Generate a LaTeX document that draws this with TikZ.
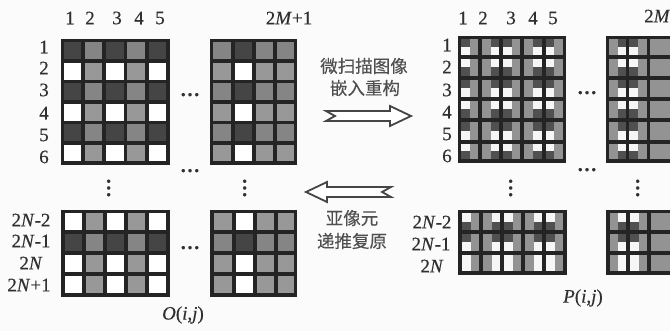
\documentclass[tikz,border=0pt]{standalone}
\usepackage{fontspec}
\setmainfont{Liberation Serif}[FakeBold=0.35]
\newfontfamily\cjk{Noto Sans CJK SC}[FakeBold=0.15]
\definecolor{ad}{HTML}{454545}
\definecolor{aw}{HTML}{FFFFFF}
\definecolor{gd}{HTML}{858585}
\definecolor{gw}{HTML}{989898}
\definecolor{gridc}{HTML}{242424}
\definecolor{paper}{HTML}{FBFBFB}
\definecolor{inkc}{HTML}{303030}
\tikzset{
  cellline/.style={draw=gridc,line width=3.4pt},
  lbl/.style={inner sep=0pt,text=inkc,font=\fontsize{19}{20}\selectfont},
  cjklbl/.style={inner sep=0pt,text=inkc!85,font=\cjk\fontsize{17.5}{20}\selectfont},
  dots/.style={inner sep=0pt,text=inkc,font=\bfseries\fontsize{20}{20}\selectfont},
  blockarrow/.style={draw=inkc!90,line width=1.8pt,fill=white,line join=miter},
}
% O-type grid: #1 = x1/x2/coltype list, #2 = y1/y2/rowtype list
\newcommand{\ogrid}[2]{%
  \foreach \xa/\xb/\cc in {#1}{\foreach \ya/\yb/\rr in {#2}{%
    \path[fill=\cc\rr,cellline] (\xa,\ya) rectangle (\xb,\yb);}}}
% P-type grid: #1 = x1/x2/left/right, #2 = y1/y2/top/bottom
\newcommand{\pgridx}[2]{%
  \foreach \xa/\xb/\ll/\rt in {#1}{\foreach \ya/\yb/\tp/\bt in {#2}{%
    \pgfmathsetmacro{\xm}{(\xa+\xb)/2}\pgfmathsetmacro{\ym}{(\ya+\yb)/2}%
    \fill[\ll\tp] (\xa,\ya) rectangle (\xm,\ym);
    \fill[\ll\bt] (\xa,\ym) rectangle (\xm,\yb);
    \fill[\rt\tp] (\xm,\ya) rectangle (\xb,\ym);
    \fill[\rt\bt] (\xm,\ym) rectangle (\xb,\yb);
    \draw[cellline] (\xa,\ya) rectangle (\xb,\yb);}}}
\begin{document}
\begin{tikzpicture}[x=1pt,y=-1pt]
\clip (0,0) rectangle (670,331);
\fill[paper] (0,0) rectangle (670,331);
% left grids
\ogrid{62.5/83/a,83/104/g,104/125.5/a,125.5/147/g,147/168/a}
      {40.5/61/d,61/81.5/w,81.5/102/d,102/122.5/w,122.5/143/d,143/163/w}
\ogrid{211.5/233/g,233/254/a,254/275/g,275/295.5/g}
      {40.5/61/d,61/81.5/w,81.5/102/d,102/122.5/w,122.5/143/d,143/163/w}
\ogrid{63/84/a,84/105/g,105/126/a,126/147/g,147/168/a}
      {211.5/232/w,232/253/d,253/274/w,274/295/w}
\ogrid{212/234/g,234/255/a,255/276/g,276/295.5/g}
      {211.5/232/w,232/253/d,253/274/w,274/295/w}
% right grids: the grey of a mixed cell is uniform
\definecolor{gd}{HTML}{939393}
\definecolor{gw}{HTML}{939393}
\definecolor{ad}{HTML}{505050}
\definecolor{aw}{HTML}{F6F6F6}
\pgridx{459.5/480/a/g,480/501/g/a,501/522/a/g,522/544/g/a,544/564.5/a/g}
       {37.5/57/d/w,57/78/w/d,78/99/d/w,99/120/w/d,120/142/d/w,142/161/w/d}
\pgridx{607.5/627.5/g/a,627.5/648.5/a/g,648.5/673/g/g}
       {37.5/57/d/w,57/78/w/d,78/99/d/w,99/120/w/d,120/142/d/w,142/161/w/d}
\pgridx{460/481/a/g,481/502/g/a,502/523/a/g,523/544/g/a,544/565/a/g}
       {211.5/232/w/d,232/253/d/w,253/273/w/w}
\pgridx{608/628/g/a,628/649/a/g,649/673/g/g}
       {211.5/232/w/d,232/253/d/w,253/273/w/w}
% column labels
\foreach \t/\x in {1/70,2/90,3/117,4/139,5/160}
  \node[lbl] (ot\t) at (\x,18) {\t};
\node[lbl] (otm) at (289,18) {2\textit{M}+1};
\foreach \t/\x in {1/463,2/483,3/511,4/533,5/553}
  \node[lbl] (pt\t) at (\x,18) {\t};
\node[lbl,anchor=west] (ptm) at (644,16) {2\textit{M}};
% row labels
\foreach \t/\y in {1/47,2/68,3/90,4/113,5/135,6/157}
  \node[lbl] (ol\t) at (44,\y) {\t};
\foreach \t/\y in {1/45,2/67,3/90,4/112,5/134,6/156}
  \node[lbl] (pl\t) at (447,\y) {\t};
\node[lbl] (ola) at (31,220) {2\textit{N}-2};
\node[lbl] (olb) at (31,241) {2\textit{N}-1};
\node[lbl] (olc) at (31,263) {2\textit{N}};
\node[lbl] (old) at (29,285) {2\textit{N}+1};
\node[lbl] (pla) at (432,222) {2\textit{N}-2};
\node[lbl] (plb) at (431,244) {2\textit{N}-1};
\node[lbl] (plc) at (432,266) {2\textit{N}};
\node[lbl] (oij) at (183,315) {\textit{O}(\textit{i},\textit{j})};
\node[lbl] (pij) at (583,298) {\textit{P}(\textit{i},\textit{j})};
% ellipses
\node[dots,anchor=base] (da) at (190,96) {…};
\node[dots,anchor=base] (db) at (190,172) {…};
\node[dots,anchor=base] (dc) at (190,249) {…};
\node[dots,anchor=base] (dd) at (587,94) {…};
\node[dots,anchor=base] (de) at (587,171) {…};
\foreach \n/\x in {a/110,b/246,c/512,d/639}
  \node[dots,rotate=90,anchor=base] (v\n) at (\x,188) {…};
% captions
\node[cjklbl] (ca) at (364,66) {微扫描图像};
\node[cjklbl] (cb) at (365,88) {嵌入重构};
\node[cjklbl] (cc) at (352,218) {亚像元};
\node[cjklbl] (cd) at (352,241) {递推复原};
% block arrows
\draw[blockarrow] (326,111) -- (390,111) -- (390,106) -- (411,116) -- (390,126)
  -- (390,121) -- (326,121) -- (335,116) -- cycle;
\draw[blockarrow] (391,187) -- (327,187) -- (327,182) -- (306,192) -- (327,202)
  -- (327,197) -- (391,197) -- (382,192) -- cycle;
\end{tikzpicture}
\end{document}
